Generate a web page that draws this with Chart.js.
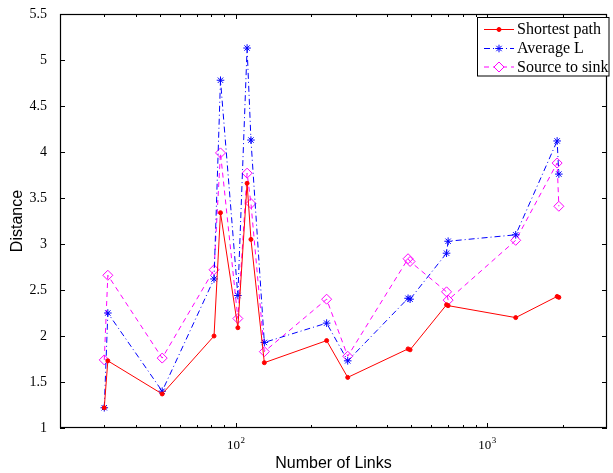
<!DOCTYPE html>
<html><head><meta charset="utf-8">
<script src="https://cdn.jsdelivr.net/npm/chart.js"></script>
<style>html,body{margin:0;padding:0;background:#fff}canvas{display:block}</style>
</head><body>
<canvas id="c" width="613" height="473"></canvas>
<script>
// ---- data ----
const links        = [30, 31, 51, 82, 87, 102, 111, 115, 130, 230, 279, 485, 494, 690, 700, 1300, 1900, 1930];
const shortestPath = [1.22, 1.73, 1.37, 2.00, 3.34, 2.09, 3.66, 3.05, 1.71, 1.95, 1.55, 1.86, 1.85, 2.34, 2.33, 2.20, 2.43, 2.42];
const averageL     = [1.22, 2.25, 1.40, 2.62, 4.78, 2.44, 5.13, 4.13, 1.93, 2.14, 1.73, 2.41, 2.40, 2.90, 3.03, 3.10, 4.12, 3.76];
const sourceToSink = [1.74, 2.66, 1.76, 2.72, 3.99, 2.19, 3.77, 3.44, 1.83, 2.40, 1.78, 2.84, 2.81, 2.48, 2.39, 3.04, 3.88, 3.41];
const seriesNames  = ['Shortest path', 'Average L', 'Source to sink'];
const yTickValues  = [1, 1.5, 2, 2.5, 3, 3.5, 4, 4.5, 5, 5.5];
const xMajorTicks  = [100, 1000];
const xMinorTicks  = [30, 40, 50, 60, 70, 80, 90, 200, 300, 400, 500, 600, 700, 800, 900, 2000];
const xTitle = 'Number of Links';
const yTitle = 'Distance';

const SERIF = '"Liberation Serif", "Times New Roman", serif';
const SANS  = '"Liberation Sans", Arial, sans-serif';

function pts(ys) { return links.map((x, i) => ({ x: x, y: ys[i] })); }

function drawMarker(ctx, style, x, y, r, color) {
  ctx.save();
  ctx.setLineDash([]);
  ctx.strokeStyle = color; ctx.fillStyle = color; ctx.lineWidth = 1;
  ctx.beginPath();
  if (style === 'circle') {
    ctx.arc(x, y, r, 0, Math.PI * 2); ctx.fill(); ctx.stroke();
  } else if (style === 'star') {
    for (let k = 0; k < 4; k++) {
      const a = k * Math.PI / 4;
      ctx.moveTo(x - r * Math.cos(a), y - r * Math.sin(a));
      ctx.lineTo(x + r * Math.cos(a), y + r * Math.sin(a));
    }
    ctx.stroke();
  } else if (style === 'rectRot') {
    ctx.moveTo(x, y - r); ctx.lineTo(x + r, y); ctx.lineTo(x, y + r); ctx.lineTo(x - r, y); ctx.closePath();
    ctx.fillStyle = '#fff'; ctx.fill(); ctx.stroke();
  }
  ctx.restore();
}

const axesPlugin = {
  id: 'axesPlugin',
  afterDatasetsDraw(chart) {
    const ctx = chart.ctx, a = chart.chartArea;
    const xs = chart.scales.x, ys = chart.scales.y;
    ctx.save();
    ctx.strokeStyle = '#000';
    ctx.lineWidth = 1.2;
    ctx.setLineDash([]);
    ctx.strokeRect(a.left + 0.5, a.top + 0.5, a.right - a.left - 1, a.bottom - a.top - 1);
    ctx.lineWidth = 1;
    ctx.beginPath();
    // y ticks (inward, both sides)
    yTickValues.forEach(v => {
      const py = Math.round(ys.getPixelForValue(v)) + 0.5;
      ctx.moveTo(a.left, py); ctx.lineTo(a.left + 5, py);
      ctx.moveTo(a.right, py); ctx.lineTo(a.right - 5, py);
    });
    // x major / minor ticks (inward, top and bottom)
    xMajorTicks.forEach(v => {
      const px = Math.round(xs.getPixelForValue(v)) + 0.5;
      ctx.moveTo(px, a.bottom); ctx.lineTo(px, a.bottom - 5);
      ctx.moveTo(px, a.top); ctx.lineTo(px, a.top + 5);
    });
    xMinorTicks.forEach(v => {
      const px = Math.round(xs.getPixelForValue(v)) + 0.5;
      ctx.moveTo(px, a.bottom); ctx.lineTo(px, a.bottom - 3);
      ctx.moveTo(px, a.top); ctx.lineTo(px, a.top + 3);
    });
    ctx.stroke();

    // x tick labels 10^n
    ctx.fillStyle = '#000';
    ctx.textBaseline = 'alphabetic';
    ctx.textAlign = 'left';
    xMajorTicks.forEach(v => {
      const px = xs.getPixelForValue(v);
      const e = String(Math.round(Math.log10(v)));
      ctx.font = '13px ' + SERIF;
      const w1 = ctx.measureText('10').width;
      ctx.font = '9px ' + SERIF;
      const w2 = ctx.measureText(e).width;
      const x0 = px - (w1 + w2) / 2;
      ctx.font = '13px ' + SERIF;
      ctx.fillText('10', x0, a.bottom + 21);
      ctx.font = '9px ' + SERIF;
      ctx.fillText(e, x0 + w1 + 0.5, a.bottom + 15);
    });

    // legend
    const lx = 477.5, ly = 17.5, lw = 131.5, lh = 58.5;
    ctx.fillStyle = '#fff';
    ctx.fillRect(lx, ly, lw, lh);
    ctx.lineWidth = 1;
    ctx.strokeStyle = '#000';
    ctx.strokeRect(lx, ly, lw, lh);
    const rows = [29.5, 48.5, 67];
    chart.data.datasets.forEach((ds, i) => {
      const y = rows[i];
      ctx.save();
      ctx.strokeStyle = ds.borderColor;
      ctx.lineWidth = 1;
      ctx.setLineDash(ds.borderDash || []);
      ctx.beginPath(); ctx.moveTo(484, y); ctx.lineTo(514, y); ctx.stroke();
      ctx.restore();
      drawMarker(ctx, ds.pointStyle, 499, y, ds.pointRadius, ds.borderColor);
      ctx.fillStyle = '#000';
      ctx.font = '16px ' + SERIF;
      ctx.textBaseline = 'middle';
      ctx.textAlign = 'left';
      ctx.fillText(ds.label, 517, y + 0.5);
    });
    ctx.restore();
  }
};

new Chart(document.getElementById('c'), {
  type: 'line',
  data: {
    datasets: [
      { label: seriesNames[0], data: pts(shortestPath), borderColor: '#ff0000', backgroundColor: '#ff0000',
        borderWidth: 1, pointStyle: 'circle', pointRadius: 2, pointBorderWidth: 1,
        pointBackgroundColor: '#ff0000', pointBorderColor: '#ff0000', tension: 0 },
      { label: seriesNames[1], data: pts(averageL), borderColor: '#0000ff', backgroundColor: '#0000ff',
        borderWidth: 1, borderDash: [6, 3, 1, 3], pointStyle: 'star', pointRadius: 3.8, pointBorderWidth: 1,
        pointBorderColor: '#0000ff', tension: 0 },
      { label: seriesNames[2], data: pts(sourceToSink), borderColor: '#ff00ff', backgroundColor: 'rgba(0,0,0,0)',
        borderWidth: 1, borderDash: [5, 4], pointStyle: 'rectRot', pointRadius: 5, pointBorderWidth: 1,
        pointBackgroundColor: 'rgba(0,0,0,0)', pointBorderColor: '#ff00ff', tension: 0 }
    ]
  },
  options: {
    responsive: false,
    animation: false,
    devicePixelRatio: 1,
    layout: { padding: { left: 0, right: 1, top: 14, bottom: 0 } },
    plugins: { legend: { display: false }, tooltip: { enabled: false } },
    scales: {
      x: {
        type: 'logarithmic', min: 20, max: 3000,
        grid: { display: false }, border: { display: false },
        afterBuildTicks: s => { s.ticks = xMajorTicks.map(v => ({ value: v })); },
        ticks: { display: false },
        title: { display: true, text: xTitle, color: '#000', font: { family: SANS, size: 16 }, padding: { top: 0, bottom: 0 } },
        afterFit: s => { s.height = 45; }
      },
      y: {
        type: 'linear', min: 1, max: 5.5,
        grid: { display: false }, border: { display: false },
        afterBuildTicks: s => { s.ticks = yTickValues.map(v => ({ value: v })); },
        ticks: { color: '#000', font: { family: SERIF, size: 14 }, padding: 5, callback: v => String(v) },
        title: { display: true, text: yTitle, color: '#000', font: { family: SANS, size: 16 }, padding: { top: 8, bottom: 0 } },
        afterFit: s => { s.width = 60; }
      }
    }
  },
  plugins: [axesPlugin]
});
</script>
</body></html>
